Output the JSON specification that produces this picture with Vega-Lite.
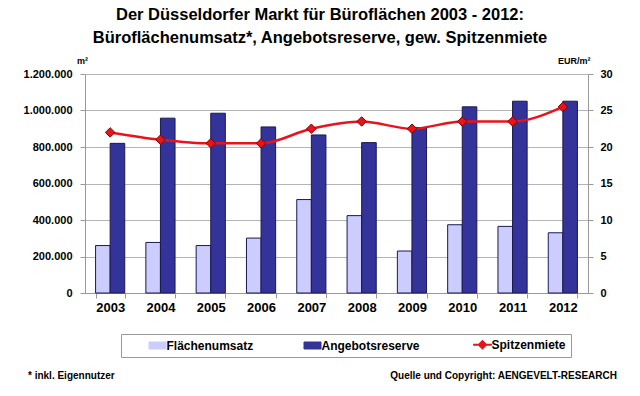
{
  "$schema": "https://vega.github.io/schema/vega-lite/v6.json",
  "background": "white",
  "padding": {"left": 23, "top": 6, "right": 10, "bottom": 4},
  "config": {
    "font": "Liberation Sans",
    "locale": {"number": {"decimal": ",", "thousands": ".", "grouping": [3], "currency": ["", " €"]}},
    "view": {"stroke": null},
    "axis": {"labelFont": "Liberation Sans", "labelFontWeight": "bold", "labelFontSize": 11, "labelColor": "#000", "domainColor": "#999", "tickColor": "#999", "gridColor": "#b4b4b4", "titleFont": "Liberation Sans", "titleFontWeight": "bold", "titleFontSize": 9, "titleColor": "#000"},
    "legend": {"labelFont": "Liberation Sans", "labelFontWeight": "bold", "labelFontSize": 12, "labelColor": "#000"}
  },
  "title": {
    "text": ["Der Düsseldorfer Markt für Büroflächen 2003 - 2012:", "Büroflächenumsatz*, Angebotsreserve, gew. Spitzenmiete"],
    "font": "Liberation Sans", "fontSize": 16.5, "fontWeight": "bold", "color": "#000", "lineHeight": 23, "anchor": "middle", "offset": 10
  },
  "datasets": {
    "bars": [
      {"year": "2003", "series": "Flächenumsatz", "value": 260000},
      {"year": "2004", "series": "Flächenumsatz", "value": 277000},
      {"year": "2005", "series": "Flächenumsatz", "value": 260000},
      {"year": "2006", "series": "Flächenumsatz", "value": 301000},
      {"year": "2007", "series": "Flächenumsatz", "value": 512000},
      {"year": "2008", "series": "Flächenumsatz", "value": 424000},
      {"year": "2009", "series": "Flächenumsatz", "value": 230000},
      {"year": "2010", "series": "Flächenumsatz", "value": 374000},
      {"year": "2011", "series": "Flächenumsatz", "value": 365000},
      {"year": "2012", "series": "Flächenumsatz", "value": 330000},
      {"year": "2003", "series": "Angebotsreserve", "value": 820000},
      {"year": "2004", "series": "Angebotsreserve", "value": 958000},
      {"year": "2005", "series": "Angebotsreserve", "value": 985000},
      {"year": "2006", "series": "Angebotsreserve", "value": 910000},
      {"year": "2007", "series": "Angebotsreserve", "value": 866000},
      {"year": "2008", "series": "Angebotsreserve", "value": 824000},
      {"year": "2009", "series": "Angebotsreserve", "value": 907000},
      {"year": "2010", "series": "Angebotsreserve", "value": 1020000},
      {"year": "2011", "series": "Angebotsreserve", "value": 1051000},
      {"year": "2012", "series": "Angebotsreserve", "value": 1051000}
    ],
    "rent": [
      {"year": "2003", "series": "Spitzenmiete", "value": 22},
      {"year": "2004", "series": "Spitzenmiete", "value": 21},
      {"year": "2005", "series": "Spitzenmiete", "value": 20.5},
      {"year": "2006", "series": "Spitzenmiete", "value": 20.5},
      {"year": "2007", "series": "Spitzenmiete", "value": 22.5},
      {"year": "2008", "series": "Spitzenmiete", "value": 23.5},
      {"year": "2009", "series": "Spitzenmiete", "value": 22.5},
      {"year": "2010", "series": "Spitzenmiete", "value": 23.5},
      {"year": "2011", "series": "Spitzenmiete", "value": 23.5},
      {"year": "2012", "series": "Spitzenmiete", "value": 25.5}
    ],
    "notes": [
      {"note": "* inkl. Eigennutzer", "pos": 0, "side": "left"},
      {"note": "Quelle und Copyright: AENGEVELT-RESEARCH", "pos": 1, "side": "right"}
    ]
  },
  "spacing": 12,
  "resolve": {"legend": {"color": "independent"}},
  "vconcat": [
    {
      "width": 503,
      "height": 219,
      "resolve": {"scale": {"y": "independent"}},
      "layer": [
        {
          "data": {"name": "bars"},
          "mark": {"type": "bar", "stroke": "#1a1a50", "strokeWidth": 1},
          "encoding": {
            "x": {"field": "year", "type": "nominal", "scale": {"paddingInner": 0.42, "paddingOuter": 0.21},
                  "axis": {"title": null, "labelAngle": 0, "labelFontSize": 13, "tickBand": "extent", "labelPadding": 3, "tickSize": 5}},
            "xOffset": {"field": "series", "type": "nominal", "sort": ["Flächenumsatz", "Angebotsreserve"]},
            "y": {"field": "value", "type": "quantitative", "scale": {"domain": [0, 1200000]},
                  "axis": {"values": [0, 200000, 400000, 600000, 800000, 1000000, 1200000], "format": ",d", "grid": true,
                           "title": "m²", "titleAngle": 0, "titleX": -3, "titleY": -14, "titleAlign": "center", "titleBaseline": "middle", "tickSize": 5, "labelPadding": 8}},
            "color": {"field": "series", "type": "nominal",
                      "scale": {"domain": ["Flächenumsatz", "Angebotsreserve", "Spitzenmiete"], "range": ["#ccccff", "#333399", "#e8141c"]}}
          }
        },
        {
          "data": {"name": "rent"},
          "encoding": {
            "x": {"field": "year", "type": "nominal"},
            "y": {"field": "value", "type": "quantitative", "scale": {"domain": [0, 30]},
                  "axis": {"orient": "right", "values": [0, 5, 10, 15, 20, 25, 30], "grid": false,
                           "title": "EUR/m²", "titleAngle": 0, "titleX": 2, "titleY": -14, "titleAlign": "right", "titleBaseline": "middle", "tickSize": 5, "labelPadding": 7}},
            "color": {"field": "series", "type": "nominal",
                      "legend": {"orient": "none", "legendX": 36, "legendY": 260, "direction": "horizontal", "strokeColor": "#999", "padding": 4.5, "columnPadding": 48, "labelOffset": 3,
                                 "title": "\u00a0", "titleOrient": "left", "titlePadding": 26, "titleFontSize": 11,
                                 "symbolSize": 289, "symbolType": "M-1,-0.41H1V0.41H-1Z",
                                 "encode": {"symbols": {"update": {
                                   "shape": {"signal": "datum.value === 'Spitzenmiete' ? 'M-1.1,0H-0.42L0,-0.42L0.42,0L0,0.42L-0.42,0M0.42,0H1.1' : 'M-1,-0.41H1V0.41H-1Z'"},
                                   "stroke": {"signal": "datum.value === 'Spitzenmiete' ? '#e8141c' : '#1a1a50'"},
                                   "strokeWidth": {"signal": "datum.value === 'Spitzenmiete' ? 2 : 1"}
                                 }}}}}
          },
          "layer": [
            {"mark": {"type": "line", "interpolate": "monotone", "strokeWidth": 2.5}},
            {"mark": {"type": "point", "filled": true, "shape": "diamond", "size": 90, "stroke": "#8a0000", "strokeWidth": 1, "opacity": 1}}
          ]
        }
      ]
    },
    {
      "width": 503,
      "height": 12,
      "data": {"name": "notes"},
      "encoding": {
        "x": {"field": "pos", "type": "quantitative", "scale": {"domain": [0.0968, 0.9508]}, "axis": null},
        "y": {"value": 6},
        "text": {"field": "note"}
      },
      "layer": [
        {
          "transform": [{"filter": "datum.side == 'left'"}],
          "mark": {"type": "text", "align": "left", "baseline": "middle", "fontSize": 10, "fontWeight": "bold", "font": "Liberation Sans"}
        },
        {
          "transform": [{"filter": "datum.side == 'right'"}],
          "mark": {"type": "text", "align": "right", "baseline": "middle", "fontSize": 10, "fontWeight": "bold", "font": "Liberation Sans"}
        }
      ]
    }
  ]
}
